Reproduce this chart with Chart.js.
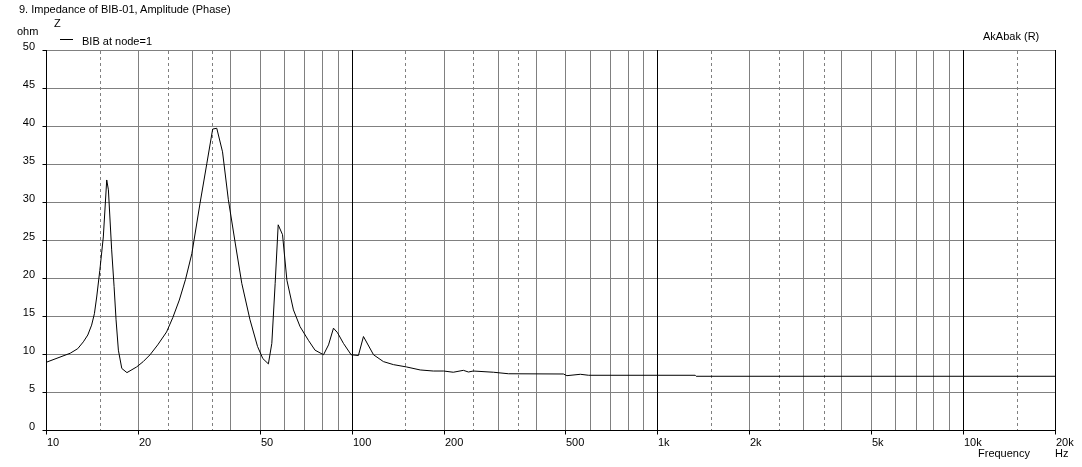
<!DOCTYPE html>
<html>
<head>
<meta charset="utf-8">
<script src="https://cdn.jsdelivr.net/npm/chart.js@4/dist/chart.umd.min.js"></script>
<style>
  html, body { margin: 0; padding: 0; background: #fff; }
  #wrap { position: relative; width: 1082px; height: 467px; overflow: hidden; background: #fff; }
  canvas { position: absolute; left: 0; top: 0; }
  .t { position: absolute; font-family: "Liberation Sans", Arial, sans-serif; font-size: 11px; line-height: 11px; color: #000; white-space: nowrap; }
  #legline { position: absolute; left: 60px; top: 39px; width: 13px; height: 1px; background: #000; }
</style>
</head>
<body>
<div id="wrap">
  <canvas id="c" width="1082" height="467"></canvas>
  <div class="t" style="left:19px; top:4px;">9. Impedance of BIB-01, Amplitude (Phase)</div>
  <div class="t" style="left:54px; top:18px;">Z</div>
  <div class="t" style="left:17px; top:26px;">ohm</div>
  <div id="legline"></div>
  <div class="t" style="left:82px; top:36px;">BIB at node=1</div>
  <div class="t" style="left:983px; top:31px;">AkAbak (R)</div>
  <div class="t" style="left:978px; top:448px;">Frequency</div>
  <div class="t" style="left:1055px; top:448px;">Hz</div>
</div>
<script>
// ---- data ----
const freqs = [10, 12.0, 12.7, 13.25, 13.7, 14.1, 14.4, 14.65, 15.0, 15.4, 15.8, 16.0, 16.4, 16.7, 16.95, 17.25, 17.7, 18.4,
  19.8, 20.8, 21.9, 23.2, 24.8, 26.0,
  27.3, 28.6, 30.0, 31.9, 33.6, 35.1, 36.2, 37.8, 39.5, 41.6, 43.7, 46.5, 49.2, 51.2, 53.4, 54.8, 56.2, 57.5, 59.4, 61.4, 64.5,
  67.8, 72.2, 75.9, 80.9, 84.0, 87.2, 89.9, 94.0, 99.6, 105.2, 109.3, 117.9, 127, 137, 151, 167.6, 185, 200, 215, 232,
  241, 250, 291, 326, 493, 506, 560, 596, 1330, 1340, 20000];
const impedance = [8.9, 10.1, 10.7, 11.6, 12.5, 13.8, 15.3, 17.5, 21.0, 25.4, 32.9, 31.6, 23.7, 18.9, 14.5, 10.5, 8.1, 7.55,
  8.3, 9.0, 9.9, 11.2, 12.9, 14.8,
  17.1, 19.8, 23.2, 29.8, 35.1, 39.6, 39.7, 36.6, 30.3, 24.6, 19.3, 14.5, 11.0, 9.4, 8.7, 11.4, 19.3, 27.0, 25.7, 19.7, 15.8,
  13.6, 11.8, 10.5, 9.9, 11.2, 13.4, 12.8, 11.4, 9.9, 9.8, 12.3, 9.9, 9.0, 8.6, 8.3, 7.9, 7.76, 7.76, 7.6, 7.85,
  7.63, 7.76, 7.6, 7.4, 7.37, 7.15, 7.33, 7.2, 7.2, 7.07, 7.07];

const xTickValues = [10, 20, 50, 100, 200, 500, 1000, 2000, 5000, 10000, 20000];
const xTickLabels = ['10', '20', '50', '100', '200', '500', '1k', '2k', '5k', '10k', '20k'];
const yTickValues = [0, 5, 10, 15, 20, 25, 30, 35, 40, 45, 50];
const xGridSolid = [20, 30, 40, 50, 60, 70, 80, 90, 200, 300, 400, 500, 600, 700, 800, 900,
  2000, 3000, 4000, 5000, 6000, 7000, 8000, 9000];
const xGridDashed = [15, 25, 35, 150, 250, 350, 1500, 2500, 3500, 15000];
const xGridDecade = [10, 100, 1000, 10000, 20000];

const GRID = '#808080';
const FONT = '11px "Liberation Sans", Arial, sans-serif';

const gridPlugin = {
  id: 'akabakGrid',
  beforeDatasetsDraw(chart) {
    const ctx = chart.ctx, a = chart.chartArea, xs = chart.scales.x, ys = chart.scales.y;
    const px = v => Math.round(xs.getPixelForValue(v)) + 0.5;
    const py = v => Math.round(ys.getPixelForValue(v)) + 0.5;
    const top = Math.round(a.top), bot = Math.round(a.bottom);
    ctx.save();
    ctx.lineWidth = 1;
    ctx.strokeStyle = GRID;
    ctx.beginPath();
    yTickValues.forEach(v => { if (v > 0) { const y = py(v); ctx.moveTo(a.left, y); ctx.lineTo(a.right + 1, y); } });
    ctx.stroke();
    ctx.beginPath();
    xGridSolid.forEach(v => { const x = px(v); ctx.moveTo(x, top); ctx.lineTo(x, bot); });
    ctx.stroke();
    ctx.setLineDash([3, 3]);
    ctx.beginPath();
    xGridDashed.forEach(v => { const x = px(v); ctx.moveTo(x, top + 1); ctx.lineTo(x, bot); });
    ctx.stroke();
    ctx.setLineDash([]);
    ctx.strokeStyle = '#000';
    ctx.beginPath();
    xGridDecade.forEach(v => { const x = px(v); ctx.moveTo(x, top); ctx.lineTo(x, bot); });
    const y0 = py(0);
    ctx.moveTo(a.left, y0); ctx.lineTo(a.right + 1, y0);
    xTickValues.forEach(v => { const x = px(v); ctx.moveTo(x, y0); ctx.lineTo(x, y0 + 4); });
    yTickValues.forEach(v => { const y = py(v); ctx.moveTo(px(10) - 4, y); ctx.lineTo(px(10), y); });
    ctx.stroke();
    ctx.fillStyle = '#000';
    ctx.font = FONT;
    ctx.textBaseline = 'alphabetic';
    ctx.textAlign = 'left';
    xTickValues.forEach((v, i) => {
      ctx.fillText(xTickLabels[i], Math.round(xs.getPixelForValue(v)) + 1, 446);
    });
    ctx.textAlign = 'right';
    yTickValues.forEach(v => {
      ctx.fillText(String(v), 35, Math.round(ys.getPixelForValue(v)));
    });
    ctx.restore();
  }
};

new Chart(document.getElementById('c'), {
  type: 'line',
  data: {
    datasets: [{
      label: 'BIB at node=1',
      data: freqs.map((f, i) => ({ x: f, y: impedance[i] })),
      borderColor: '#000',
      borderWidth: 1,
      pointRadius: 0,
      tension: 0,
      fill: false
    }]
  },
  options: {
    responsive: false,
    animation: false,
    devicePixelRatio: 1,
    layout: { padding: { left: 46, top: 50, right: 27, bottom: 37 } },
    scales: {
      x: { type: 'logarithmic', min: 10, max: 20000, display: false },
      y: { type: 'linear', min: 0, max: 50, display: false }
    },
    plugins: { legend: { display: false }, tooltip: { enabled: false }, title: { display: false } },
    elements: { line: { borderCapStyle: 'butt', borderJoinStyle: 'miter' } }
  },
  plugins: [gridPlugin]
});
</script>
</body>
</html>
